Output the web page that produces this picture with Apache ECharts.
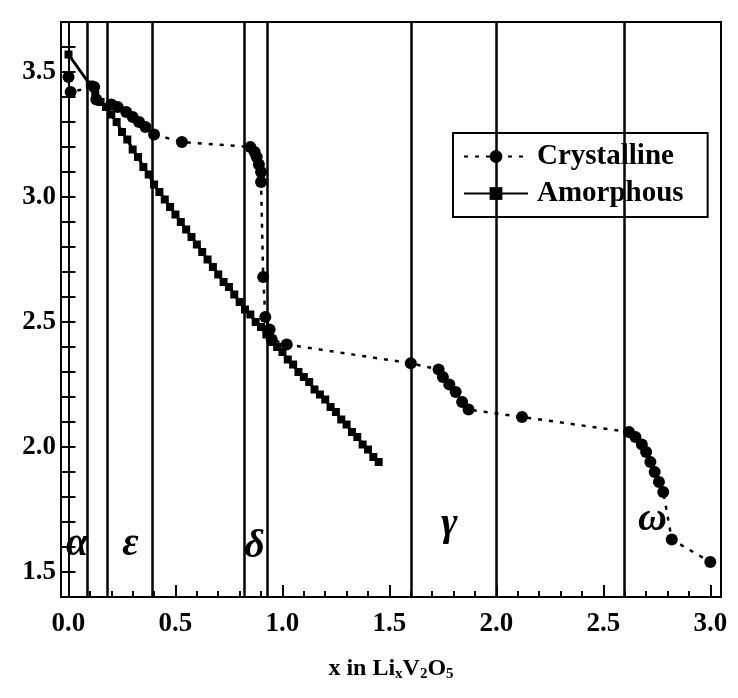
<!DOCTYPE html>
<html lang="en">
<head>
<meta charset="UTF-8">
<title>LixV2O5</title>
<style>
  *{margin:0;padding:0;box-sizing:border-box;}
  body{background:#fff;}
  #view{width:738px;height:698px;}
</style>
</head>
<body>
<div id="view"></div>
<script src="https://cdn.jsdelivr.net/npm/echarts@6/dist/echarts.min.js"></script>
<script>
// crystalline: [x, voltage]
const crystalline = [
  [0.00, 3.48], [0.01, 3.42], [0.12, 3.44], [0.13, 3.39], [0.20, 3.37], [0.23, 3.36],
  [0.27, 3.34], [0.30, 3.32], [0.33, 3.30], [0.36, 3.28], [0.40, 3.25], [0.53, 3.22],
  [0.85, 3.20], [0.87, 3.18], [0.88, 3.16], [0.89, 3.13], [0.90, 3.10], [0.90, 3.06],
  [0.91, 2.68], [0.92, 2.52], [0.94, 2.47], [0.95, 2.43], [1.02, 2.41], [1.60, 2.335],
  [1.73, 2.31], [1.75, 2.28], [1.78, 2.25], [1.81, 2.22], [1.84, 2.18], [1.87, 2.15],
  [2.12, 2.12], [2.62, 2.06], [2.65, 2.04], [2.68, 2.01], [2.70, 1.98], [2.72, 1.94],
  [2.74, 1.90], [2.76, 1.86], [2.78, 1.82], [2.82, 1.63], [3.00, 1.54]
];
const amorphous = [
  [0.00, 3.57], [0.10, 3.45], [0.125, 3.41], [0.15, 3.38], [0.175, 3.36], [0.20, 3.33],
  [0.225, 3.30], [0.25, 3.26], [0.275, 3.23], [0.30, 3.19], [0.325, 3.16], [0.35, 3.12],
  [0.375, 3.09], [0.40, 3.05], [0.425, 3.02], [0.45, 2.99], [0.475, 2.96], [0.50, 2.93],
  [0.525, 2.90], [0.55, 2.87], [0.575, 2.84], [0.60, 2.81], [0.625, 2.78], [0.65, 2.75],
  [0.675, 2.72], [0.70, 2.69], [0.725, 2.66], [0.75, 2.64], [0.775, 2.61], [0.80, 2.58],
  [0.825, 2.55], [0.85, 2.53], [0.875, 2.50], [0.90, 2.48], [0.925, 2.45], [0.95, 2.42],
  [0.975, 2.40], [1.00, 2.38], [1.025, 2.35], [1.05, 2.33], [1.075, 2.30], [1.10, 2.28],
  [1.125, 2.26], [1.15, 2.23], [1.175, 2.21], [1.20, 2.19], [1.225, 2.16], [1.25, 2.14],
  [1.275, 2.11], [1.30, 2.09], [1.325, 2.06], [1.35, 2.04], [1.375, 2.01], [1.40, 1.99],
  [1.425, 1.96], [1.45, 1.94]
];
const phaseBounds = [0.09, 0.185, 0.39, 0.82, 0.93, 1.60, 2.00, 2.60];
const phaseNames = ['α', 'ε', 'δ', 'γ', 'ω'];
const phaseX = [0.04, 0.29, 0.87, 1.78, 2.73];
const phaseY = [1.61, 1.61, 1.60, 1.69, 1.71];
const xLabels = [0.0, 0.5, 1.0, 1.5, 2.0, 2.5, 3.0];
const xMinor = [0.1, 0.2, 0.3, 0.4, 0.6, 0.7, 0.8, 0.9, 1.1, 1.2, 1.3, 1.4, 1.6, 1.7, 1.8, 1.9,
  2.1, 2.2, 2.3, 2.4, 2.6, 2.7, 2.8, 2.9];
const yLabels = [1.5, 2.0, 2.5, 3.0, 3.5];
const yTicks = [1.5, 1.6, 1.7, 1.8, 1.9, 2.0, 2.1, 2.2, 2.3, 2.4, 2.5, 2.6, 2.7, 2.8, 2.9,
  3.0, 3.1, 3.2, 3.3, 3.4, 3.5, 3.6];

const serif = '"Liberation Serif", "DejaVu Serif", serif';
const phasePoints = phaseNames.map((n, i) => ({ value: [phaseX[i], phaseY[i]], name: n }));

const option = {
  animation: false,
  backgroundColor: '#fff',
  grid: { left: 61, right: 17, top: 22, bottom: 101, show: true, borderColor: '#000', borderWidth: 2 },
  legend: {
    data: ['Crystalline', 'Amorphous'],
    orient: 'vertical',
    left: 453, top: 133,
    padding: [9, 24, 9, 10],
    itemGap: 8,
    itemWidth: 64, itemHeight: 16,
    borderColor: '#000', borderWidth: 2,
    backgroundColor: '#fff',
    textStyle: { fontFamily: serif, fontWeight: 'bold', fontSize: 29, color: '#000', padding: [0, 0, 0, 4] }
  },
  xAxis: [{
    type: 'value', min: -0.035, max: 3.05,
    name: 'x in Li{s|x}V{s|2}O{s|5}',
    nameLocation: 'middle', nameGap: 58,
    nameTextStyle: {
      fontFamily: serif, fontWeight: 'bold', fontSize: 24, color: '#000',
      rich: { s: { fontFamily: serif, fontWeight: 'bold', fontSize: 15, verticalAlign: 'bottom', padding: [12, 0, 0, 0] } }
    },
    splitLine: { show: false },
    axisLine: { lineStyle: { color: '#000', width: 2 } },
    axisTick: { inside: true, length: 12, lineStyle: { color: '#000', width: 2 }, customValues: xLabels },
    axisLabel: {
      customValues: xLabels, margin: 14,
      formatter: v => v.toFixed(1),
      fontFamily: serif, fontWeight: 'bold', fontSize: 27, color: '#000'
    }
  }, {
    type: 'value', min: -0.035, max: 3.05, position: 'bottom',
    splitLine: { show: false }, axisLine: { show: false }, axisLabel: { show: false },
    axisTick: { inside: true, length: 6, lineStyle: { color: '#000', width: 2 }, customValues: xMinor }
  }],
  yAxis: [{
    type: 'value', min: 1.4, max: 3.7,
    splitLine: { show: false },
    axisLine: { show: true, lineStyle: { color: '#000', width: 2 } },
    axisTick: { inside: true, length: 7, lineStyle: { color: '#000', width: 2 }, customValues: yTicks },
    axisLabel: {
      customValues: yLabels, margin: 5,
      formatter: v => v.toFixed(1),
      fontFamily: serif, fontWeight: 'bold', fontSize: 27, color: '#000'
    }
  }, {
    type: 'value', min: 1.4, max: 3.7, position: 'right',
    splitLine: { show: false },
    axisLine: { show: true, lineStyle: { color: '#000', width: 2 } },
    axisLabel: { show: false },
    axisTick: { inside: true, length: 7, lineStyle: { color: '#000', width: 2 }, customValues: yTicks }
  }],
  series: [{
    name: 'Crystalline',
    type: 'line',
    data: crystalline,
    symbol: 'circle', symbolSize: 12,
    itemStyle: { color: '#000' },
    lineStyle: { color: '#000', width: 2.5, type: [4, 7] },
    markLine: {
      silent: true, symbol: 'none', label: { show: false },
      lineStyle: { color: '#000', width: 2.5, type: 'solid' },
      data: phaseBounds.map(v => ({ xAxis: v }))
    },
    z: 3
  }, {
    name: 'Amorphous',
    type: 'line',
    data: amorphous,
    symbol: 'rect', symbolSize: 8,
    itemStyle: { color: '#000' },
    lineStyle: { color: '#000', width: 3 },
    z: 4
  }, {
    name: 'phases',
    type: 'scatter',
    data: phasePoints,
    symbolSize: 0,
    itemStyle: { opacity: 1, color: '#000' },
    label: {
      show: true, position: 'inside', opacity: 1,
      formatter: p => p.name,
      fontFamily: serif, fontWeight: 'bold', fontStyle: 'italic', fontSize: 40, color: '#000'
    },
    z: 5
  }]
};

var myChart = echarts.init(document.getElementById('view'));
myChart.setOption(option);
</script>
</body>
</html>
